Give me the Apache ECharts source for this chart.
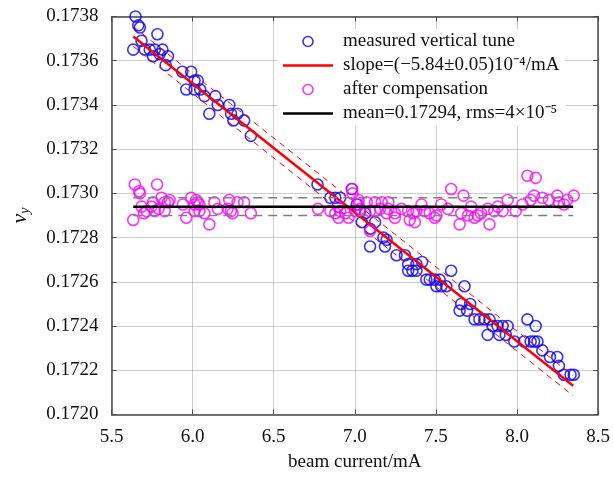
<!DOCTYPE html>
<html><head><meta charset="utf-8">
<script src="https://cdn.jsdelivr.net/npm/echarts@6/dist/echarts.min.js"></script>
<style>html,body{margin:0;padding:0;background:#fff}#c{width:613px;height:479px}</style>
</head><body><div id="c"></div>
<script>
// ---- data ----
const blueCurrent = [5.648,5.665,5.675,5.783,5.685,5.634,5.705,5.736,5.767,5.814,5.756,5.797,5.848,5.834,5.936,5.991,6.012,6.032,5.961,6.012,6.047,6.073,6.140,6.155,6.103,6.226,6.277,6.237,6.251,6.318,6.359,
 6.770,6.849,6.880,6.910,6.982,7.012,7.033,7.064,7.043,7.125,7.094,7.094,7.176,7.196,7.186,7.257,7.309,7.329,7.380,7.415,7.329,7.355,7.380,7.441,7.462,7.493,7.523,7.503,7.533,7.564,7.594,7.676,7.656,7.711,7.646,7.692,7.738,7.768,7.799,7.830,7.850,7.880,7.911,7.942,7.819,7.891,7.931,8.064,8.115,7.983,8.044,8.084,8.105,8.126,8.156,8.203,8.248,8.258,8.289,8.330,8.350];
const blueTune = [0.17380,0.17376,0.17375,0.17372,0.17369,0.17365,0.17365,0.17365,0.17365,0.17365,0.17362,0.17363,0.17362,0.17358,0.17355,0.17355,0.17351,0.17351,0.17347,0.17347,0.17347,0.17344,0.17344,0.17340,0.17336,0.17340,0.17336,0.17336,0.17333,0.17333,0.17326,
 0.17304,0.17298,0.17298,0.17298,0.17302,0.17295,0.17292,0.17291,0.17287,0.17287,0.17284,0.17276,0.17280,0.17279,0.17276,0.17272,0.17272,0.17268,0.17268,0.17269,0.17265,0.17265,0.17265,0.17261,0.17261,0.17261,0.17261,0.17258,0.17258,0.17258,0.17265,0.17258,0.17250,0.17250,0.17247,0.17247,0.17243,0.17243,0.17243,0.17243,0.17240,0.17240,0.17240,0.17240,0.17236,0.17236,0.17236,0.17243,0.17240,0.17233,0.17233,0.17233,0.17233,0.17233,0.17229,0.17226,0.17226,0.17222,0.17218,0.17218,0.17218];

const compCurrent = [5.644,5.670,5.675,5.781,5.634,5.685,5.716,5.746,5.767,5.756,5.808,5.828,5.848,5.858,5.828,5.940,5.991,5.961,6.012,6.022,6.032,6.042,6.012,6.042,6.073,6.103,6.134,6.155,6.226,6.216,6.236,6.246,6.277,6.318,6.359,5.700,5.790,
 6.773,6.849,6.880,6.910,6.941,6.896,6.900,6.961,6.982,6.986,7.023,7.023,7.074,7.125,7.003,7.033,7.094,7.125,7.094,7.156,7.207,7.196,7.247,7.166,7.207,7.288,7.329,7.360,7.380,7.411,7.431,7.462,7.493,7.339,7.370,7.247,
 7.503,7.533,7.574,7.594,7.670,7.646,7.656,7.697,7.717,7.738,7.758,7.778,7.819,7.830,7.860,7.881,7.911,7.942,7.992,8.034,8.064,8.115,8.084,8.105,8.156,8.197,8.248,8.258,8.289,8.309,8.350];
const compTune = [0.17304,0.17301,0.17300,0.17304,0.17288,0.17294,0.17292,0.17294,0.17292,0.17296,0.17298,0.17296,0.17296,0.17297,0.17292,0.17295,0.17298,0.17289,0.17295,0.17297,0.17296,0.17295,0.17292,0.17292,0.17291,0.17286,0.17296,0.17293,0.17297,0.17293,0.17292,0.17291,0.17296,0.17296,0.17291,0.17291,0.17293,
 0.17293,0.17292,0.17291,0.17292,0.17291,0.17294,0.17289,0.17289,0.17302,0.17300,0.17297,0.17295,0.17296,0.17296,0.17292,0.17293,0.17292,0.17292,0.17283,0.17293,0.17293,0.17291,0.17291,0.17296,0.17296,0.17293,0.17292,0.17291,0.17292,0.17295,0.17292,0.17291,0.17289,0.17288,0.17287,0.17289,
 0.17290,0.17295,0.17293,0.17302,0.17299,0.17286,0.17291,0.17290,0.17294,0.17289,0.17290,0.17291,0.17293,0.17286,0.17292,0.17294,0.17292,0.17297,0.17292,0.17295,0.17308,0.17307,0.17297,0.17299,0.17298,0.17297,0.17299,0.17296,0.17295,0.17297,0.17299];

const fitCurrent = [5.634, 8.346];
const fitTune = [0.17371, 0.17213];
const fitUpperTune = [0.173755, 0.172175];
const fitLowerTune = [0.173665, 0.172085];

const meanCurrent = [5.634, 8.346];
const meanTune = [0.17294, 0.17294];
const rmsUpperTune = [0.17298, 0.17298];
const rmsLowerTune = [0.17290, 0.17290];

const legendNames = ['measured vertical tune','slope=(\u22125.84\u00b10.05)10\u207b\u2074/mA','after compensation','mean=0.17294, rms=4\u00d710\u207b\u2075'];

// ---- chart ----
const pairs = (xs, ys) => xs.map((x, i) => [x, ys[i]]);
const FONT = 'Liberation Serif';
const frame = {show:true, lineStyle:{color:'#4a4a4a', width:1.5}};
const ticks = {show:true, inside:true, length:5, lineStyle:{color:'#4a4a4a', width:1}};
const grid = {show:true, lineStyle:{type:'dotted', color:'#9a9a9a', width:1}};
const LINE_ICON = 'path://M0,0H50V2.5H0Z';

const chart = echarts.init(document.getElementById('c'), null, {renderer:'canvas'});
chart.setOption({
  animation:false,
  backgroundColor:'#fff',
  grid:{left:111.5, right:12, top:16.5, bottom:64.5, containLabel:false},
  xAxis:[
    {type:'value', min:5.5, max:8.5, interval:0.5, position:'bottom',
     axisLine:frame, axisTick:ticks, splitLine:grid,
     axisLabel:{margin:13, fontFamily:FONT, fontSize:19, color:'#111', formatter:v=>v.toFixed(1)},
     name:'beam current/mA', nameLocation:'middle', nameGap:38,
     nameTextStyle:{fontFamily:FONT, fontSize:19, color:'#111'}},
    {type:'value', min:5.5, max:8.5, interval:0.5, position:'top',
     axisLine:frame, axisTick:ticks, splitLine:{show:false}, axisLabel:{show:false}}
  ],
  yAxis:[
    {type:'value', min:0.1720, max:0.1738, interval:0.0002, position:'left',
     axisLine:frame, axisTick:ticks, splitLine:grid,
     axisLabel:{margin:13, fontFamily:FONT, fontSize:19, color:'#111', formatter:v=>v.toFixed(4)},
     name:'{a|\u03bd}{b|y}', nameLocation:'middle', nameRotate:90, nameGap:79,
     nameTextStyle:{rich:{
       a:{fontFamily:FONT, fontStyle:'italic', fontSize:22, color:'#111', lineHeight:24},
       b:{fontFamily:FONT, fontStyle:'italic', fontSize:14, color:'#111', lineHeight:24, verticalAlign:'bottom', padding:[10,0,0,0]}
     }}},
    {type:'value', min:0.1720, max:0.1738, interval:0.0002, position:'right',
     axisLine:frame, axisTick:ticks, splitLine:{show:false}, axisLabel:{show:false}}
  ],
  legend:{
    orient:'vertical', left:278, top:29, padding:[3,6,3,5], backgroundColor:'#fff',
    itemWidth:50, itemHeight:10, itemGap:5, selectedMode:false,
    textStyle:{fontFamily:FONT, fontSize:19, color:'#111', lineHeight:19, padding:[0,0,0,5]},
    data:[
      {name:legendNames[0], icon:'circle', itemStyle:{color:'rgba(0,0,0,0)', borderColor:'#0000ff', borderWidth:1.6}},
      {name:legendNames[1], icon:LINE_ICON, itemStyle:{color:'#ff0000', borderWidth:0}},
      {name:legendNames[2], icon:'circle', itemStyle:{color:'rgba(0,0,0,0)', borderColor:'#ff00ff', borderWidth:1.6}},
      {name:legendNames[3], icon:LINE_ICON, itemStyle:{color:'#000000', borderWidth:0}}
    ]
  },
  series:[
    {type:'scatter', name:legendNames[0], silent:true, symbol:'circle', symbolSize:11,
     itemStyle:{color:'rgba(0,0,0,0)', borderColor:'#0000ff', borderWidth:1.6},
     data:pairs(blueCurrent, blueTune), z:2},
    {type:'line', name:'fitUpper', silent:true, symbol:'none',
     lineStyle:{color:'#ff0000', width:1, type:[6,5]}, data:pairs(fitCurrent, fitUpperTune), z:3},
    {type:'line', name:'fitLower', silent:true, symbol:'none',
     lineStyle:{color:'#ff0000', width:1, type:[6,5]}, data:pairs(fitCurrent, fitLowerTune), z:3},
    {type:'line', name:legendNames[1], silent:true, symbol:'none',
     lineStyle:{color:'#ff0000', width:2.5}, itemStyle:{color:'#ff0000'}, data:pairs(fitCurrent, fitTune), z:3},
    {type:'scatter', name:legendNames[2], silent:true, symbol:'circle', symbolSize:11,
     itemStyle:{color:'rgba(0,0,0,0)', borderColor:'#ff00ff', borderWidth:1.6},
     data:pairs(compCurrent, compTune), z:4},
    {type:'line', name:'rmsUpper', silent:true, symbol:'none',
     lineStyle:{color:'#808080', width:1.5, type:[9,6]}, data:pairs(meanCurrent, rmsUpperTune), z:5},
    {type:'line', name:'rmsLower', silent:true, symbol:'none',
     lineStyle:{color:'#808080', width:1.5, type:[9,6]}, data:pairs(meanCurrent, rmsLowerTune), z:5},
    {type:'line', name:legendNames[3], silent:true, symbol:'none',
     lineStyle:{color:'#000000', width:2.5}, itemStyle:{color:'#000'}, data:pairs(meanCurrent, meanTune), z:6}
  ]
});
</script>
</body></html>
